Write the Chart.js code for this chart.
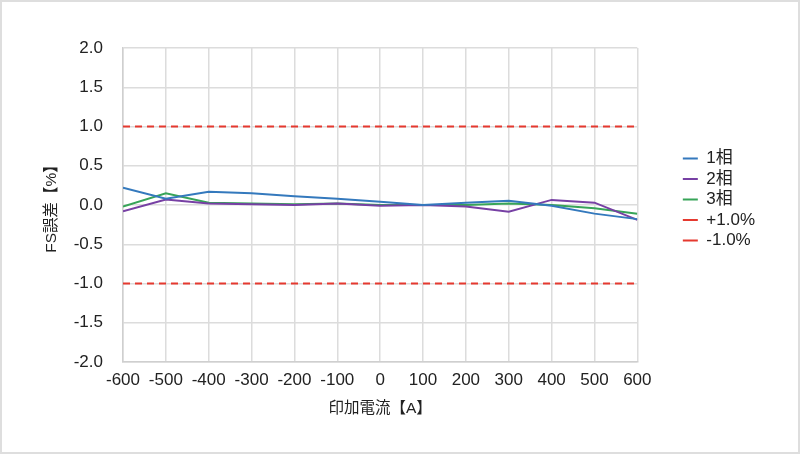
<!DOCTYPE html>
<html>
<head>
<meta charset="utf-8">
<script src="https://cdn.jsdelivr.net/npm/chart.js@4/dist/chart.umd.min.js"></script>
<style>
  html, body { margin: 0; padding: 0; background: #fff; }
  #wrap { width: 800px; height: 454px; box-sizing: border-box; border: 2px solid #dedede; }
  #chart { display: block; }
</style>
</head>
<body>
<div id="wrap"><canvas id="chart" width="796" height="450"></canvas></div>
<script>
// x axis: applied current [A]
const current = [-600, -500, -400, -300, -200, -100, 0, 100, 200, 300, 400, 500, 600]
// FS error [%] per phase
const phase1 = [0.22, 0.08, 0.17, 0.15, 0.11, 0.08, 0.04, 0.00, 0.03, 0.055, -0.01, -0.11, -0.18]
const phase2 = [-0.08, 0.07, 0.02, 0.01, 0.00, 0.02, -0.01, 0.00, -0.02, -0.085, 0.065, 0.03, -0.19]
const phase3 = [-0.02, 0.15, 0.03, 0.02, 0.01, 0.02, 0.00, 0.00, 0.00, 0.02, 0.00, -0.04, -0.11]
// limit lines
const upperLimit = 1.0
const lowerLimit = -1.0
const seriesNames = ['1相', '2相', '3相', '+1.0%', '-1.0%']

const font = "'Liberation Sans', Arial, 'Noto Sans CJK JP', sans-serif"
const toPoints = (vals) => current.map((x, i) => ({ x: x, y: vals[i] }))
const flat = (v) => current.map((x) => ({ x: x, y: v }))

const lineStyle = (label, data, color, dash) => ({
    label: label,
    data: data,
    borderColor: color,
    backgroundColor: color,
    borderWidth: 2,
    borderDash: dash || [],
    pointRadius: 0,
    tension: 0
})

// move the legend a bit away from the plot, like the original
const legendShift = {
    id: 'legendShift',
    afterLayout (chart) {
        const lg = chart.legend
        lg.left += 42
        lg.right += 42
        lg.top -= 5.5
        lg.bottom -= 5.5
    }
}

new Chart(document.getElementById('chart'), {
    type: 'line',
    data: {
        datasets: [
            lineStyle(seriesNames[0], toPoints(phase1), '#3479bd'),
            lineStyle(seriesNames[1], toPoints(phase2), '#7740a4'),
            lineStyle(seriesNames[2], toPoints(phase3), '#37a458'),
            lineStyle(seriesNames[3], flat(upperLimit), '#e5392f', [7, 5]),
            lineStyle(seriesNames[4], flat(lowerLimit), '#e5392f', [7, 5])
        ]
    },
    options: {
        responsive: false,
        animation: false,
        layout: { padding: { left: 36, right: 75, top: 46, bottom: 34 } },
        scales: {
            x: {
                type: 'linear',
                min: -600,
                max: 600,
                ticks: { stepSize: 100, color: '#222', font: { family: font, size: 17 }, padding: 8 },
                grid: { color: '#dcdcdc', lineWidth: 1.5, drawTicks: false },
                border: { color: '#cfcfcf', width: 1.5 },
                title: { display: true, text: '印加電流【A】', color: '#222', font: { family: font, size: 15.5 }, padding: { top: 1, bottom: 0 } }
            },
            y: {
                min: -2,
                max: 2,
                afterFit: (scale) => { scale.width = 85 },
                ticks: { stepSize: 0.5, color: '#222', font: { family: font, size: 17 }, padding: 20,
                    callback: (v) => v.toFixed(1) },
                grid: { color: '#dcdcdc', lineWidth: 1.5, drawTicks: false },
                border: { color: '#cfcfcf', width: 1.5 },
                title: { display: true, text: 'FS誤差【%】', color: '#222', font: { family: font, size: 15.5 }, padding: { top: 4, bottom: 4 } }
            }
        },
        plugins: {
            legend: {
                position: 'right',
                fullSize: false,
                labels: {
                    usePointStyle: true,
                    pointStyle: 'line',
                    pointStyleWidth: 15,
                    padding: 3.5,
                    color: '#222',
                    font: { family: font, size: 17 },
                    generateLabels (chart) {
                        const items = Chart.defaults.plugins.legend.labels.generateLabels(chart)
                        items.forEach((it) => { if (it.lineDash && it.lineDash.length) it.lineDash = [8, 20] })
                        return items
                    }
                }
            },
            tooltip: { enabled: false }
        }
    },
    plugins: [legendShift]
})
</script>
</body>
</html>
